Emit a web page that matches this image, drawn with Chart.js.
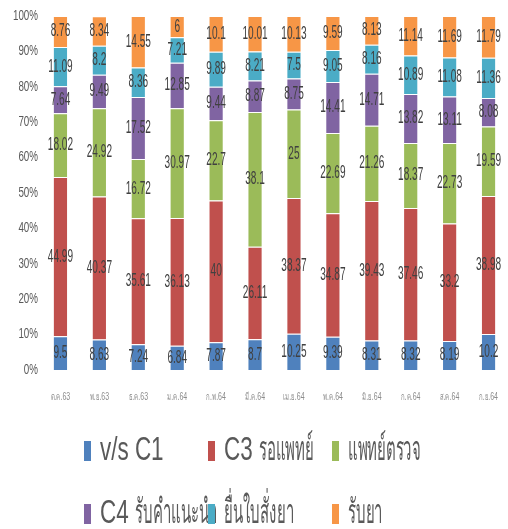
<!DOCTYPE html>
<html>
<head>
<meta charset="utf-8">
<script src="https://cdn.jsdelivr.net/npm/chart.js@4"></script>
<style>
  html, body { margin: 0; padding: 0; background: #fff; }
  #chart { display: block; }
</style>
</head>
<body>
<canvas id="chart" width="508" height="529"></canvas>
<script>
// เดือน
const months = ['ต.ค.63', 'พ.ย.63', 'ธ.ค.63', 'ม.ค.64', 'ก.พ.64', 'มี.ค.64', 'เม.ย.64', 'พ.ค.64', 'มิ.ย.64', 'ก.ค.64', 'ส.ค.64', 'ก.ย.64'];
const seriesNames = ['v/s C1', 'C3 รอแพทย์', 'แพทย์ตรวจ', 'C4 รับคำแนะนำ', 'ยื่นใบสั่งยา', 'รับยา'];
const seriesColors = ['#4F81BD', '#C0504D', '#9BBB59', '#8064A2', '#4BACC6', '#F79646'];

// ค่าร้อยละของแต่ละขั้นตอน
const vsC1 = [9.5, 8.63, 7.24, 6.84, 7.87, 8.7, 10.25, 9.39, 8.31, 8.32, 8.19, 10.2];
const c3Wait = [44.99, 40.37, 35.61, 36.13, 40, 26.11, 38.37, 34.87, 39.43, 37.46, 33.2, 38.98];
const doctor = [18.02, 24.92, 16.72, 30.97, 22.7, 38.1, 25, 22.69, 21.26, 18.37, 22.73, 19.59];
const c4Advice = [7.64, 9.49, 17.52, 12.85, 9.44, 8.87, 8.75, 14.41, 14.71, 13.82, 13.11, 8.08];
const submitRx = [11.09, 8.2, 8.36, 7.21, 9.89, 8.21, 7.5, 9.05, 8.16, 10.89, 11.08, 11.36];
const getMeds = [8.76, 8.34, 14.55, 6, 10.1, 10.01, 10.13, 9.59, 8.13, 11.14, 11.69, 11.79];
const yTicks = [0, 10, 20, 30, 40, 50, 60, 70, 80, 90, 100];

const seriesData = [vsC1, c3Wait, doctor, c4Advice, submitRx, getMeds];
const FONT = "'Liberation Sans', Arial, sans-serif";

// วาดตัวอักษรแบบบีบแนวนอน (อักษรไทยบีบมากกว่า)
function squeezeText(ctx, text, x, y, sx, font, color, align, thaiSx) {
    thaiSx = thaiSx || sx;
    ctx.save();
    ctx.font = font;
    ctx.fillStyle = color;
    ctx.textAlign = 'left';
    ctx.textBaseline = 'middle';
    const runs = text.match(/[\u0E00-\u0E7F]+|[^\u0E00-\u0E7F]+/g) || [];
    const widths = runs.map(r => ctx.measureText(r).width * (/[\u0E00-\u0E7F]/.test(r) ? thaiSx : sx));
    const total = widths.reduce((a, b) => a + b, 0);
    let cx = align === 'center' ? x - total / 2 : align === 'right' ? x - total : x;
    runs.forEach((r, i) => {
        const s = /[\u0E00-\u0E7F]/.test(r) ? thaiSx : sx;
        ctx.save();
        ctx.translate(cx, y);
        ctx.scale(s, 1);
        ctx.fillText(r, 0, 0);
        ctx.restore();
        cx += widths[i];
    });
    ctx.restore();
}

const textPlugin = {
    id: 'textPlugin',
    afterDatasetsDraw(chart) {
        const ctx = chart.ctx;
        const yScale = chart.scales.y;
        const xScale = chart.scales.x;

        // ค่าในแท่ง
        chart.data.datasets.forEach((ds, i) => {
            chart.getDatasetMeta(i).data.forEach((bar, j) => {
                const y = (bar.y + bar.base) / 2;
                squeezeText(ctx, String(ds.data[j]), bar.x, y, 0.56, '18px ' + FONT, '#404040', 'center');
            });
        });

        // แกน y
        yTicks.forEach(v => {
            squeezeText(ctx, v + '%', 38, yScale.getPixelForValue(v), 0.7, '14px ' + FONT, '#595959', 'right');
        });

        // แกน x
        months.forEach((m, i) => {
            squeezeText(ctx, m, xScale.getPixelForValue(i), 397, 0.7, '10px ' + FONT, '#8c8c8c', 'center', 0.6);
        });

        // คำอธิบาย
        const colX = [84, 208, 332];
        const rowY = [451, 514];
        seriesNames.forEach((name, i) => {
            const cx = colX[i % 3];
            const cy = rowY[Math.floor(i / 3)];
            ctx.fillStyle = seriesColors[i];
            ctx.fillRect(cx, cy - 10, 7, 20);
            squeezeText(ctx, name, cx + 16, cy, 0.66, '34px ' + FONT, '#595959', 'left', 0.44);
        });
    }
};

const ctx = document.getElementById('chart').getContext('2d');
new Chart(ctx, {
    type: 'bar',
    data: {
        labels: months,
        datasets: seriesData.map((d, i) => ({
            label: seriesNames[i],
            data: d,
            backgroundColor: seriesColors[i],
            borderColor: '#ffffff',
            borderWidth: 1,
            barPercentage: 0.39,
            categoryPercentage: 1
        }))
    },
    options: {
        responsive: false,
        animation: false,
        layout: { padding: { top: 16, right: 0, bottom: 0, left: 0 } },
        plugins: {
            legend: { display: false },
            tooltip: { enabled: false }
        },
        scales: {
            x: {
                stacked: true,
                grid: { display: false },
                border: { display: false },
                ticks: { display: false },
                afterFit: scale => { scale.height = 159; }
            },
            y: {
                stacked: true,
                min: 0,
                max: 100,
                grid: { display: false },
                border: { display: false },
                ticks: { display: false },
                afterFit: scale => { scale.width = 41; }
            }
        }
    },
    plugins: [textPlugin]
});
</script>
</body>
</html>
